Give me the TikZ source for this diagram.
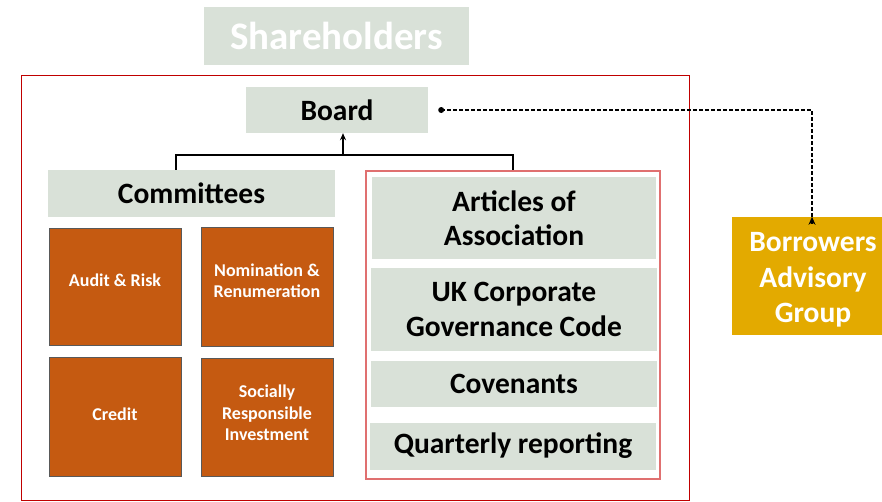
\documentclass[tikz,border=0pt]{standalone}
\usepackage{fontspec}
\setmainfont{Carlito}
\usetikzlibrary{arrows.meta}
\definecolor{boxgray}{HTML}{D9E1D8}
\definecolor{orangebox}{HTML}{C55A11}
\definecolor{goldbox}{HTML}{E3AA00}
\definecolor{framered}{HTML}{C00000}
\definecolor{lightred}{HTML}{E07070}
\tikzset{
  graybox/.style={fill=boxgray, draw=none, inner sep=0pt, align=center, text=black,
    font=\bfseries\fontsize{29.5}{34.5}\selectfont},
  combox/.style={fill=orangebox, draw=black!65, line width=0.6pt, inner sep=0pt, align=center,
    text=white, minimum width=132pt, text depth=12pt, font=\bfseries\fontsize{18}{21.5}\selectfont},
  conn/.style={line width=1.3pt, black},
}
\begin{document}
\begin{tikzpicture}[x=1pt, y=-1pt]
\useasboundingbox (0,0) rectangle (882,501);
\draw[framered, line width=0.8pt] (21,75) rectangle (689,500);
\node[graybox, text=white, minimum width=265pt, minimum height=58pt,
  font=\bfseries\fontsize{39}{44}\selectfont] (sh) at (336.5,36) {Shareholders};
\node[graybox, minimum width=182pt, minimum height=46pt] (board) at (337,110) {Board};
\node[graybox, minimum width=287pt, minimum height=47pt] (comm) at (191.5,193.5) {Committees};
\node[combox, minimum height=117pt] (audit) at (115,286.5) {Audit \& Risk};
\node[combox, minimum height=119pt] (nom) at (267,286.5) {Nomination \&\\Renumeration};
\node[combox, minimum height=119pt, text depth=5pt] (credit) at (115,416.5) {Credit};
\node[combox, minimum height=118pt, text depth=8pt] (sri) at (267,417) {Socially\\Responsible\\Investment};
\node[draw=lightred, line width=1.4pt, minimum width=294pt, minimum height=308pt, inner sep=0pt] (rf) at (513,325) {};
\node[graybox, minimum width=284pt, minimum height=82pt] (art) at (514,218) {Articles of\\Association};
\node[graybox, minimum width=286pt, minimum height=83pt] (uk) at (514,309.5) {UK Corporate\\Governance Code};
\node[graybox, minimum width=286pt, minimum height=46pt] (cov) at (514,384) {Covenants};
\node[graybox, minimum width=286pt, minimum height=47pt] (qr) at (513,446) {Quarterly reporting};
\node[fill=goldbox, inner sep=0pt, minimum width=150pt, minimum height=118pt] (bag) at (807,276) {};
\node[align=center, inner sep=0pt, text=white, font=\bfseries\fontsize{29.5}{35.5}\selectfont]
  (bagtext) at ([xshift=6pt,yshift=-4pt]bag.center) {Borrowers\\Advisory\\Group};
\coordinate (j) at (343,155);
\draw[conn] ([xshift=-15.5pt]comm.north) |- (j) -| (rf.north);
\draw[conn, -{Stealth[length=7pt,width=6pt]}] (j) -- (j |- board.south);
\draw[line width=1.5pt, dash pattern=on 4pt off 2pt] ([xshift=13pt]board.east) -| ([xshift=5pt,yshift=-6pt]bag.north);
\fill ([xshift=13pt]board.east) circle (3pt);
\draw[line width=1.5pt, -{Stealth[length=8pt,width=7pt]}] ([xshift=5pt,yshift=-7pt]bag.north) -- ([xshift=5pt]bag.north);
\end{tikzpicture}
\end{document}
